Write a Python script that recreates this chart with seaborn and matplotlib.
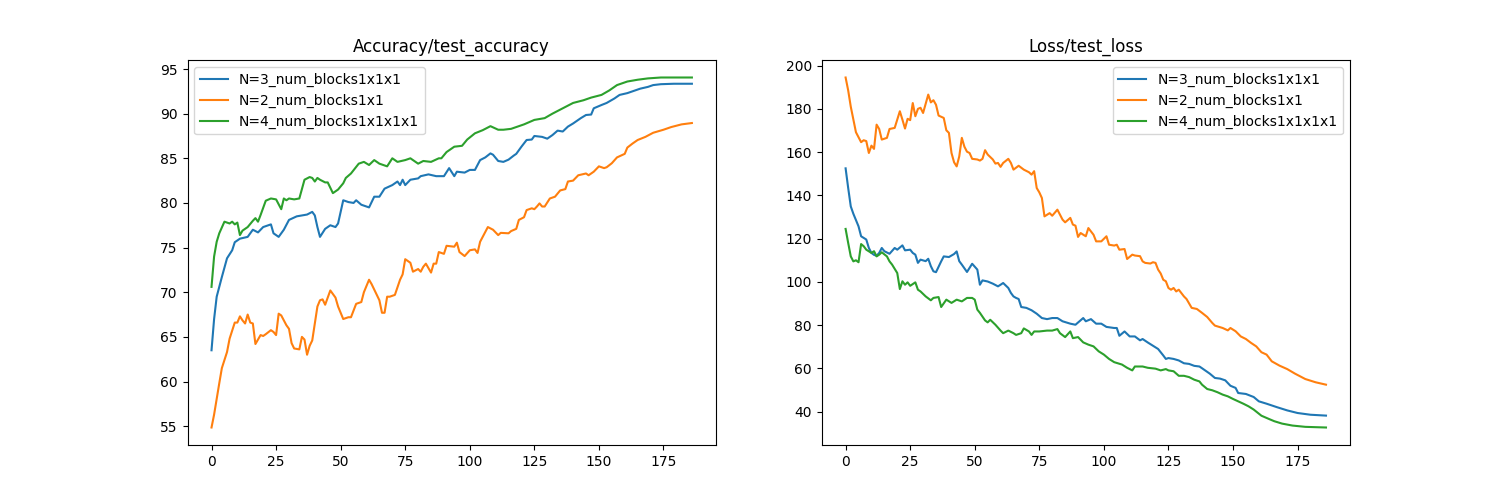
import numpy as np
import pandas as pd
import matplotlib
matplotlib.use('Agg')
import matplotlib.pyplot as plt
import seaborn as sns

labels = ['N=3_num_blocks1x1x1', 'N=2_num_blocks1x1', 'N=4_num_blocks1x1x1x1']
colors = ['#1f77b4', '#ff7f0e', '#2ca02c']

# accuracy, N=3
acc3_x = [0, 1, 2, 4, 6, 8, 9, 11, 14, 16, 18, 20, 23, 24, 26, 28, 30, 33, 37, 39, 40, 41, 42, 44, 46, 48, 49,
          51, 53, 55, 56, 58, 61, 63, 65, 67, 70, 72, 73, 74, 75, 77, 80, 81, 84, 87, 90, 92, 94, 95, 98, 100,
          102, 104, 106, 108, 109, 111, 113, 115, 117, 118, 120, 122, 124, 125, 128, 130, 132, 134, 136, 138,
          140, 143, 145, 147, 148, 151, 153, 156, 158, 161, 164, 166, 169, 171, 174, 179, 186]
acc3_y = [63.5, 67.0, 69.5, 71.7, 73.8, 74.7, 75.6, 76.0, 76.2, 77.0, 76.7, 77.3, 77.6, 76.6, 76.2, 77.0, 78.1,
          78.5, 78.7, 79.0, 78.6, 77.3, 76.2, 77.1, 77.5, 77.3, 77.7, 80.3, 80.1, 80.0, 80.3, 79.8, 79.5, 80.7,
          80.7, 81.6, 82.0, 82.4, 82.0, 82.6, 82.0, 82.6, 82.75, 83.0, 83.2, 83.0, 83.0, 83.9, 83.0, 83.5, 83.4,
          83.7, 83.7, 84.8, 85.1, 85.55, 85.4, 84.7, 84.6, 84.85, 85.3, 85.5, 86.3, 87.05, 87.1, 87.5, 87.4,
          87.2, 87.6, 88.1, 88.0, 88.55, 88.9, 89.5, 89.85, 89.9, 90.6, 90.97, 91.2, 91.7, 92.1, 92.3, 92.6,
          92.8, 93.0, 93.2, 93.3, 93.35, 93.35]

# accuracy, N=2
acc2_x = [0, 1, 3, 4, 6, 7, 9, 10, 11, 12, 13, 14, 15, 16, 17, 19, 20, 21, 23, 24, 25, 26, 27, 29, 30, 31, 32,
          34, 35, 36, 37, 38, 39, 41, 42, 43, 44, 46, 48, 49, 51, 53, 54, 56, 58, 59, 61, 62, 64, 65, 66, 67,
          68, 69, 71, 73, 74, 75, 77, 78, 80, 81, 82, 83, 85, 86, 87, 88, 90, 91, 94, 95, 96, 98, 100, 102, 103,
          104, 105, 107, 109, 111, 112, 115, 116, 118, 119, 121, 122, 124, 125, 126, 127, 128, 129, 131, 133,
          135, 137, 138, 140, 142, 145, 146, 148, 150, 152, 153, 155, 157, 160, 161, 163, 165, 168, 171, 175,
          178, 182, 186]
acc2_y = [54.85, 56.3, 59.8, 61.5, 63.3, 64.8, 66.6, 66.6, 67.3, 66.85, 66.5, 67.5, 66.6, 66.5, 64.2, 65.2,
          65.1, 65.3, 65.75, 65.55, 65.2, 67.6, 67.4, 66.3, 65.9, 64.3, 63.7, 63.6, 65.0, 64.7, 63.0, 64.0,
          64.6, 68.4, 69.1, 69.2, 68.6, 70.2, 69.4, 68.4, 67.0, 67.2, 67.2, 68.7, 68.9, 70.0, 71.4, 70.9, 69.7,
          69.1, 67.7, 67.7, 69.5, 69.5, 69.7, 71.4, 72.0, 73.7, 73.3, 72.3, 72.6, 72.3, 72.85, 73.2, 72.2, 73.2,
          73.2, 74.5, 74.3, 75.2, 75.1, 75.55, 74.5, 74.05, 74.7, 74.8, 74.4, 75.65, 76.2, 77.3, 77.0, 76.4,
          76.65, 76.6, 76.85, 77.1, 78.1, 78.4, 79.2, 79.4, 79.3, 79.6, 79.95, 79.6, 79.6, 80.5, 80.7, 81.4,
          81.55, 82.4, 82.5, 83.1, 83.3, 83.1, 83.5, 84.1, 83.9, 84.0, 84.45, 85.1, 85.5, 86.2, 86.65, 87.05,
          87.4, 87.86, 88.2, 88.5, 88.8, 88.95]

# accuracy, N=4
acc4_x = [0, 1, 2, 3, 5, 7, 8, 9, 10, 11, 12, 14, 16, 17, 18, 19, 21, 23, 25, 27, 28, 29, 30, 32, 34, 36, 38,
          39, 40, 41, 42, 44, 45, 47, 49, 51, 52, 54, 57, 59, 61, 63, 65, 68, 70, 72, 75, 77, 80, 82, 85, 88,
          89, 91, 94, 97, 99, 102, 105, 108, 111, 113, 116, 119, 121, 125, 129, 132, 136, 140, 144, 147, 151,
          154, 157, 161, 165, 169, 174, 186]
acc4_y = [70.6, 74.0, 75.65, 76.6, 77.9, 77.7, 77.9, 77.6, 77.8, 76.4, 76.9, 77.3, 78.0, 78.3, 77.9, 78.65,
          80.25, 80.5, 80.4, 79.3, 80.5, 80.3, 80.5, 80.4, 80.5, 82.6, 82.9, 82.8, 82.4, 82.8, 82.6, 82.3, 82.3,
          81.1, 81.5, 82.2, 82.8, 83.3, 84.4, 84.6, 84.25, 84.8, 84.4, 84.1, 85.0, 84.6, 84.8, 85.0, 84.4, 84.7,
          84.6, 85.0, 85.0, 85.7, 86.3, 86.4, 87.1, 87.8, 88.15, 88.6, 88.2, 88.2, 88.3, 88.6, 88.8, 89.3, 89.5,
          90.0, 90.6, 91.2, 91.5, 91.8, 92.1, 92.6, 93.2, 93.6, 93.8, 93.95, 94.05, 94.05]

# loss, N=3
loss3_x = [0, 1, 2, 3, 5, 6, 8, 9, 10, 11, 12, 13, 14, 15, 17, 19, 20, 22, 23, 25, 26, 27, 28, 29, 31, 32, 33,
           34, 35, 37, 38, 40, 42, 43, 44, 45, 47, 48, 49, 51, 52, 53, 55, 57, 59, 60, 61, 63, 64, 65, 66, 67,
           68, 70, 72, 74, 76, 78, 80, 82, 84, 87, 89, 92, 93, 95, 97, 99, 101, 104, 105, 106, 108, 110, 112,
           114, 115, 117, 119, 121, 123, 124, 125, 127, 129, 131, 133, 135, 137, 138, 141, 143, 145, 147, 149,
           151, 152, 155, 158, 160, 163, 167, 171, 175, 180, 186]
loss3_y = [152.5, 143.4, 134.9, 131.5, 125.7, 121.1, 119.6, 115.7, 113.4, 112.5, 112.1, 113.4, 115.7, 114.2,
           113.0, 115.7, 114.9, 116.9, 114.6, 114.9, 113.4, 112.6, 108.8, 110.3, 109.6, 110.7, 107.3, 104.9,
           104.5, 109.5, 111.8, 111.5, 112.9, 114.1, 109.6, 108.0, 104.6, 106.5, 108.4, 105.7, 98.7, 100.7,
           100.2, 99.2, 97.95, 98.7, 99.5, 97.2, 94.9, 93.3, 92.6, 92.1, 88.4, 88.0, 86.9, 85.3, 83.3, 82.8,
           83.3, 83.3, 81.8, 80.7, 80.2, 83.3, 81.8, 82.8, 80.7, 80.7, 79.2, 78.7, 78.7, 75.1, 77.1, 74.8, 74.8,
           73.0, 73.6, 72.0, 70.5, 69.0, 66.0, 64.4, 64.8, 64.4, 63.7, 62.4, 62.1, 61.2, 60.9, 60.1, 57.6, 55.6,
           55.3, 54.5, 52.0, 51.0, 48.65, 48.2, 46.8, 44.8, 43.7, 42.1, 40.6, 39.4, 38.6, 38.2]

# loss, N=2
loss2_x = [0, 1, 2, 3, 4, 6, 7, 8, 9, 10, 11, 12, 13, 14, 16, 17, 19, 20, 21, 22, 23, 24, 25, 26, 27, 28, 29,
           30, 32, 33, 34, 35, 36, 38, 39, 40, 41, 42, 43, 44, 45, 46, 47, 48, 49, 51, 52, 53, 54, 55, 57, 58,
           59, 60, 61, 63, 64, 65, 67, 69, 71, 72, 73, 74, 75, 76, 77, 79, 80, 82, 84, 85, 87, 88, 89, 90, 91,
           93, 94, 96, 97, 99, 101, 102, 104, 105, 106, 108, 109, 111, 112, 114, 115, 116, 118, 119, 120, 121,
           122, 123, 124, 125, 126, 127, 128, 129, 131, 132, 134, 136, 138, 140, 142, 143, 146, 148, 149, 151,
           153, 155, 157, 159, 161, 163, 165, 168, 171, 174, 178, 182, 186]
loss2_y = [194.5, 188.5, 181.0, 175.0, 169.2, 164.6, 165.5, 165.1, 159.6, 163.0, 161.5, 172.7, 170.7, 165.8,
           166.6, 170.7, 171.2, 175.0, 178.9, 175.0, 170.9, 175.4, 174.8, 182.7, 176.6, 180.0, 180.5, 178.1,
           186.6, 183.0, 184.0, 181.9, 176.9, 175.8, 170.1, 168.9, 159.6, 155.3, 153.4, 158.0, 166.6, 162.5,
           160.2, 159.6, 156.9, 156.6, 156.1, 156.9, 160.9, 158.9, 156.6, 154.7, 155.0, 153.2, 155.0, 156.9,
           155.0, 151.9, 153.7, 151.9, 150.7, 149.6, 151.2, 143.4, 141.4, 138.8, 130.3, 131.8, 130.6, 133.4,
           128.8, 127.55, 129.6, 126.5, 126.0, 120.8, 122.6, 121.1, 124.9, 121.8, 118.75, 118.75, 121.1, 117.2,
           116.8, 117.2, 114.9, 115.2, 110.6, 112.6, 112.2, 111.9, 109.5, 108.8, 108.5, 109.1, 108.8, 105.7,
           103.9, 101.0, 100.3, 97.2, 96.4, 97.2, 95.6, 96.4, 93.3, 92.1, 88.0, 87.5, 85.7, 83.8, 81.0, 79.8,
           78.7, 77.6, 78.7, 77.2, 74.8, 73.6, 71.8, 70.2, 67.5, 66.4, 63.3, 61.3, 59.7, 57.6, 55.1, 53.6, 52.5]

# loss, N=4
loss4_x = [0, 1, 2, 3, 4, 5, 6, 7, 8, 10, 11, 12, 13, 14, 16, 17, 18, 20, 21, 22, 23, 24, 25, 27, 28, 29, 31,
           33, 34, 36, 37, 39, 41, 43, 45, 47, 49, 50, 51, 52, 54, 55, 56, 58, 60, 61, 63, 65, 66, 68, 69, 71,
           72, 73, 75, 78, 80, 82, 83, 85, 87, 88, 90, 92, 94, 96, 98, 100, 102, 104, 107, 109, 111, 112, 115,
           117, 120, 122, 124, 125, 127, 129, 131, 133, 135, 137, 138, 140, 142, 144, 146, 148, 150, 152, 154,
           156, 158, 161, 164, 166, 169, 173, 178, 186]
loss4_y = [124.5, 118.0, 111.8, 109.5, 110.0, 109.1, 117.5, 116.5, 114.9, 113.4, 114.2, 111.8, 112.6, 113.7,
           111.8, 109.5, 108.0, 104.1, 96.7, 100.3, 98.7, 99.8, 98.2, 99.8, 96.4, 95.6, 93.3, 91.5, 92.6, 93.0,
           88.4, 91.8, 90.3, 91.8, 91.0, 92.6, 92.6, 91.8, 87.2, 85.7, 82.2, 81.3, 82.5, 80.2, 77.5, 76.3, 77.5,
           76.3, 75.5, 76.3, 78.5, 77.1, 75.5, 77.1, 77.1, 77.5, 77.5, 78.2, 76.3, 74.5, 77.1, 74.0, 74.5, 72.05,
           71.0, 70.2, 67.9, 66.4, 64.4, 62.9, 61.8, 60.3, 59.1, 60.9, 60.9, 60.3, 59.9, 59.1, 59.7, 59.1, 58.7,
           56.6, 56.6, 56.0, 54.8, 54.0, 52.5, 50.5, 49.9, 49.0, 47.9, 47.1, 45.9, 44.8, 43.7, 42.5, 41.0, 38.15,
           36.6, 35.6, 34.5, 33.6, 33.0, 32.7]

fig, axes = plt.subplots(1, 2, figsize=(15, 5), dpi=100)

acc = [(acc3_x, acc3_y), (acc2_x, acc2_y), (acc4_x, acc4_y)]
loss = [(loss3_x, loss3_y), (loss2_x, loss2_y), (loss4_x, loss4_y)]

for (x, y), lab, c in zip(acc, labels, colors):
    sns.lineplot(x=x, y=y, ax=axes[0], label=lab, color=c, linewidth=1.5)
for (x, y), lab, c in zip(loss, labels, colors):
    sns.lineplot(x=x, y=y, ax=axes[1], label=lab, color=c, linewidth=1.5)

axes[0].set_title('Accuracy/test_accuracy')
axes[1].set_title('Loss/test_loss')
axes[0].legend(loc='upper left')
axes[1].legend(loc='upper right')
for ax in axes:
    ax.set_xlabel('')
    ax.set_ylabel('')

plt.savefig('out.png')
